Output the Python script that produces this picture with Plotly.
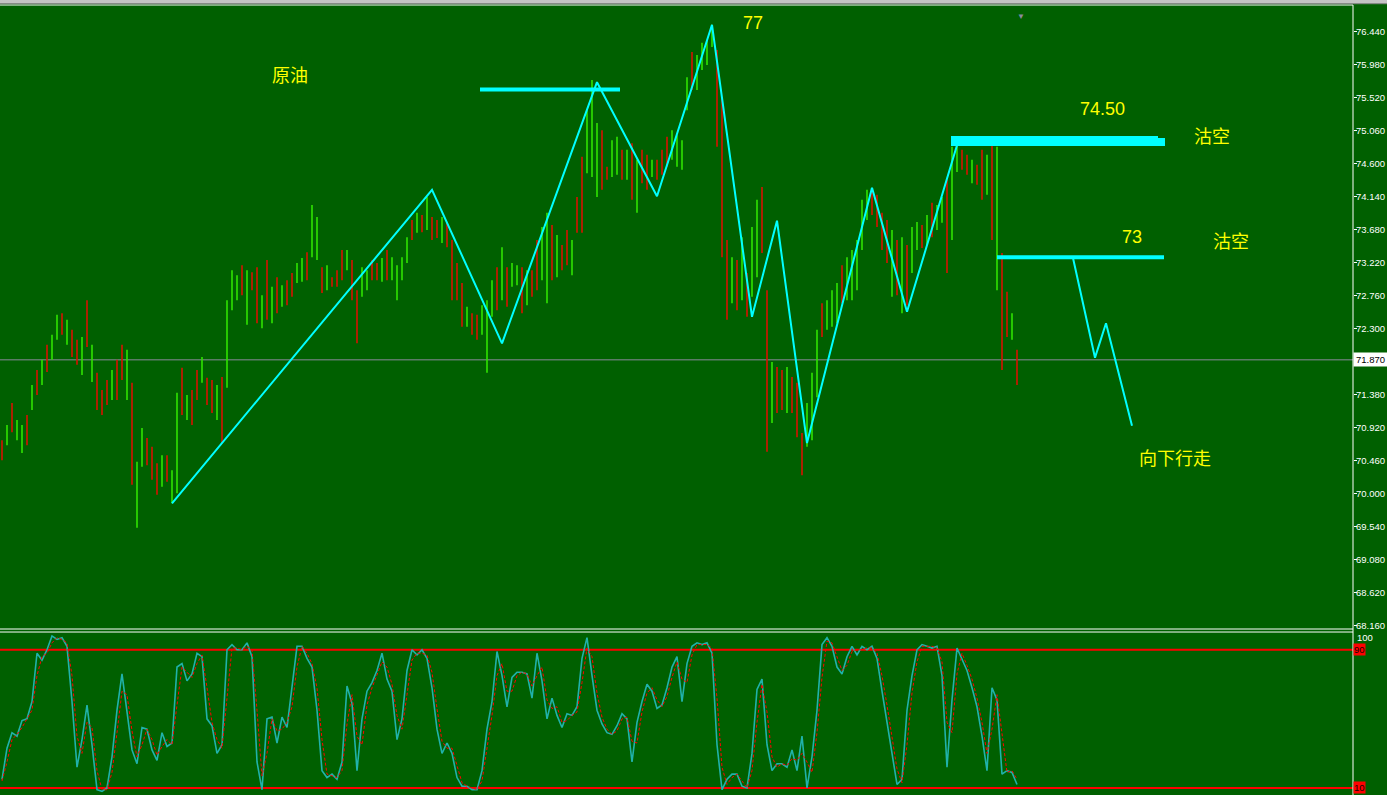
import plotly.graph_objects as go

# ---------------- data ----------------
bar_high = [
    70.75, 70.96, 71.27, 71.03, 70.96, 71.10, 71.52, 71.73, 71.87, 72.08,
    72.22, 72.50, 72.52, 72.43, 72.29, 72.15, 72.19, 72.70, 72.08, 71.69,
    71.45, 71.59, 71.73, 71.87, 72.08, 72.01, 71.55, 70.45, 70.92, 70.78,
    70.66, 70.43, 70.54, 70.54, 70.33, 71.41, 71.76, 71.38, 71.45, 71.73,
    71.91, 71.62, 71.59, 71.52, 71.63, 72.70, 73.12, 73.05, 73.19, 73.12,
    73.09, 73.16, 72.77, 73.26, 72.89, 73.02, 72.91, 72.98, 73.08, 73.22,
    73.29, 73.37, 74.03, 73.86, 73.16, 73.19, 73.02, 73.12, 73.40, 73.40,
    73.26, 72.84, 73.16, 73.12, 73.26, 73.22, 73.29, 73.40, 73.30, 73.19,
    73.30, 73.58, 73.82, 73.92, 73.89, 74.14, 73.86, 73.82, 73.86, 73.78,
    73.54, 73.22, 72.94, 72.61, 72.52, 72.50, 72.63, 72.70, 72.98, 73.16,
    73.44, 73.16, 73.22, 73.19, 73.16, 73.12, 73.12, 73.54, 73.72, 73.92,
    73.75, 73.61, 73.47, 73.68, 73.54, 74.14, 74.70, 75.35, 75.77, 75.17,
    75.07, 74.56, 74.93, 74.98, 74.80, 74.80, 74.89, 74.66, 74.80, 74.73,
    74.66, 74.66, 74.80, 74.98, 75.07, 75.00, 74.93, 75.81, 76.16, 76.12,
    76.29, 76.33, 76.54, 76.19, 75.53, 73.54, 73.30, 73.26, 73.58, 73.08,
    73.72, 74.10, 74.28, 72.84, 71.84, 71.77, 71.73, 71.77, 71.63, 71.55,
    70.85, 71.27, 71.69, 72.29, 72.66, 72.70, 72.84, 72.94, 73.19, 73.30,
    73.40, 73.54, 74.10, 74.24, 74.24, 74.17, 73.92, 73.82, 73.68, 73.54,
    73.58, 73.47, 73.72, 73.79, 73.75, 73.89, 74.06, 74.03, 74.14, 74.38,
    74.84, 74.86, 74.80, 74.73, 74.66, 74.59, 74.80, 74.73, 74.86, 74.84,
    73.36, 72.82, 72.52, 72.01,
]
bar_low = [
    70.47, 70.68, 70.86, 70.75, 70.57, 70.68, 71.17, 71.38, 71.52, 71.70,
    71.87, 72.15, 72.22, 72.08, 71.91, 71.80, 71.66, 72.05, 71.56, 71.17,
    71.10, 71.24, 71.31, 71.31, 71.59, 71.31, 70.13, 69.53, 70.38, 70.40,
    70.20, 69.99, 70.10, 70.17, 69.87, 70.01, 71.10, 71.03, 70.96, 71.31,
    71.55, 71.24, 71.13, 71.03, 70.71, 71.48, 72.56, 72.70, 72.77, 72.36,
    72.84, 72.38, 72.31, 72.43, 72.38, 72.52, 72.61, 72.63, 72.75, 72.94,
    72.96, 72.98, 73.30, 73.26, 72.80, 72.84, 72.89, 72.89, 72.98, 73.12,
    72.70, 72.10, 72.75, 72.84, 72.98, 72.98, 72.96, 72.98, 72.98, 72.70,
    72.98, 73.22, 73.54, 73.64, 73.65, 73.68, 73.54, 73.57, 73.50, 73.44,
    72.70, 72.70, 72.33, 72.33, 72.22, 72.15, 72.22, 71.69, 72.47, 72.56,
    72.70, 72.61, 72.89, 72.91, 72.52, 72.63, 72.75, 72.84, 72.98, 72.66,
    72.98, 73.02, 73.12, 73.19, 73.05, 73.64, 73.64, 74.47, 74.42, 74.14,
    74.24, 74.38, 74.42, 74.45, 74.38, 74.38, 74.10, 73.92, 74.33, 74.24,
    74.42, 74.38, 74.45, 74.56, 74.66, 74.56, 74.52, 75.35, 75.63, 75.63,
    75.91, 75.98, 76.23, 74.84, 73.30, 72.43, 72.66, 72.56, 72.70, 72.47,
    72.75, 73.02, 73.36, 70.59, 70.99, 71.13, 71.17, 71.13, 71.13, 70.79,
    70.26, 70.66, 70.75, 71.35, 72.19, 72.29, 72.33, 72.38, 72.66, 72.70,
    72.70, 72.84, 73.40, 73.82, 73.89, 73.72, 73.40, 73.22, 72.75, 72.77,
    72.52, 72.63, 73.08, 73.40, 73.43, 73.47, 73.58, 73.68, 73.78, 73.08,
    73.54, 74.49, 74.52, 74.45, 74.33, 74.31, 74.10, 74.17, 73.54, 72.84,
    71.73, 72.19, 72.15, 71.52,
]
# u = up bar, d = down bar
bar_dir = (
    "duduududud" "uududdudud" "ddudduduud" "dduduududd" "udduduuudu"
    "ddudududdu" "uduududddu" "dduudduduu" "uudududdud" "dddudduuud"
    "uduududduu" "duddudduuu" "dduudududd" "uddduuuudu" "uuudddudud"
    "uudduddudd" "duuuduuudu" "uuuuddddud" "uduududuud" "uudduddudu"
    "ddud"
)

stoch_main = [
    15, 33, 42, 40, 49, 50, 60, 88, 84, 90,
    98, 96, 97, 92, 60, 22, 38, 58, 35, 9,
    8, 10, 28, 55, 76, 55, 32, 24, 45, 44,
    32, 26, 42, 34, 36, 80, 82, 72, 76, 88,
    86, 50, 46, 30, 35, 90, 93, 90, 90, 94,
    86, 25, 9, 50, 51, 36, 51, 45, 68, 92,
    92, 85, 80, 55, 20, 16, 18, 15, 25, 69,
    59, 20, 50, 66, 71, 78, 88, 73, 66, 38,
    50, 78, 90, 87, 90, 85, 68, 44, 30, 36,
    30, 16, 11, 11, 9, 9, 20, 44, 60, 89,
    75, 57, 74, 77, 77, 76, 62, 88, 72, 50,
    62, 52, 45, 53, 52, 57, 85, 97, 75, 55,
    47, 42, 41, 46, 53, 50, 25, 48, 60, 70,
    66, 56, 58, 68, 80, 86, 60, 82, 92, 94,
    93, 94, 88, 35, 9, 15, 18, 18, 11, 10,
    30, 67, 73, 35, 20, 24, 24, 22, 32, 20,
    40, 10, 28, 55, 93, 97, 92, 80, 76, 86,
    92, 87, 92, 90, 92, 85, 66, 49, 30, 12,
    15, 55, 75, 90, 93, 92, 91, 92, 75, 22,
    61, 91, 84, 78, 68, 57, 40, 20, 68, 61,
    18, 20, 19, 12,
]
stoch_signal = [
    14, 25, 38, 41, 45, 50, 55, 75, 86, 88,
    94, 97, 96, 94, 75, 40, 30, 48, 45, 20,
    9, 9, 19, 42, 66, 64, 43, 28, 35, 44,
    38, 29, 34, 38, 35, 58, 80, 77, 74, 82,
    87, 68, 48, 38, 33, 62, 91, 91, 90, 92,
    90, 55, 17, 30, 50, 43, 44, 48, 57, 80,
    92, 88, 82, 68, 38, 18, 17, 16, 20, 47,
    64, 40, 35, 58, 68, 75, 83, 80, 70, 52,
    44, 64, 84, 88, 88, 87, 77, 56, 37, 33,
    33, 23, 13, 11, 10, 9, 14, 32, 52, 75,
    82, 66, 66, 75, 77, 76, 69, 75, 80, 61,
    56, 57, 48, 49, 52, 54, 71, 91, 86, 65,
    51, 44, 41, 43, 50, 51, 37, 36, 54, 65,
    68, 61, 57, 63, 74, 83, 73, 71, 87, 93,
    93, 93, 91, 62, 22, 12, 16, 18, 14, 10,
    20, 48, 70, 54, 28, 22, 24, 23, 27, 26,
    30, 25, 19, 42, 74, 95, 94, 86, 78, 81,
    89, 90, 90, 91, 91, 88, 75, 58, 40, 21,
    13, 35, 65, 83, 92, 92, 92, 91, 83, 48,
    42, 76, 88, 81, 73, 62, 48, 30, 44, 64,
    40, 19, 20, 15,
]

zigzag_idx = [34, 86, 100, 119, 131, 142, 150, 155, 161, 174, 181, 191]
zigzag_price = [69.87, 74.24, 72.10, 75.74, 74.15, 76.54, 72.47, 73.81, 70.71, 74.27, 72.54, 74.86]

proj_idx = [214.2, 218.6, 220.8, 226.0]
proj_price = [73.29, 71.90, 72.38, 70.95]

level_price = [75.64, 74.935, 74.907, 73.30]
level_from = [95.6, 189.8, 189.8, 199.0]
level_to = [123.6, 231.2, 232.6, 232.4]

price_ticks = [76.44, 75.98, 75.52, 75.06, 74.60, 74.14, 73.68, 73.22, 72.76,
               72.30, 71.38, 70.92, 70.46, 70.00, 69.54, 69.08, 68.62, 68.16]
last_price = 71.87
stoch_levels = [90, 10]

# ---------------- styles ----------------
BG = "#006000"
UP = "#2fe400"
DOWN = "#d81200"
CYAN = "#00ffff"
YELLOW = "#ffff00"
AXFONT = "Liberation Sans, Arial"
level_width = [4, 8, 8, 4]

N = len(bar_high)
bar_idx = list(range(N))
bar_open = [lo if d == "u" else hi for hi, lo, d in zip(bar_high, bar_low, bar_dir)]
bar_close = [hi if d == "u" else lo for hi, lo, d in zip(bar_high, bar_low, bar_dir)]

fig = go.Figure()

fig.add_trace(go.Ohlc(
    x=bar_idx, open=bar_open, high=bar_high, low=bar_low, close=bar_close,
    increasing=dict(line=dict(color=UP, width=1.6)),
    decreasing=dict(line=dict(color=DOWN, width=1.6)),
    tickwidth=0, hoverinfo="skip", showlegend=False, xaxis="x", yaxis="y"))

for p, a, b, w in zip(level_price, level_from, level_to, level_width):
    fig.add_trace(go.Scatter(x=[a, b], y=[p, p], mode="lines",
                             line=dict(color=CYAN, width=w), hoverinfo="skip",
                             showlegend=False, xaxis="x", yaxis="y"))

fig.add_trace(go.Scatter(x=zigzag_idx, y=zigzag_price, mode="lines",
                         line=dict(color=CYAN, width=2), hoverinfo="skip",
                         showlegend=False, xaxis="x", yaxis="y"))
fig.add_trace(go.Scatter(x=proj_idx, y=proj_price, mode="lines",
                         line=dict(color=CYAN, width=2), hoverinfo="skip",
                         showlegend=False, xaxis="x", yaxis="y"))

fig.add_trace(go.Scatter(x=bar_idx, y=stoch_main, mode="lines",
                         line=dict(color="#20b2aa", width=1.6), hoverinfo="skip",
                         showlegend=False, xaxis="x2", yaxis="y2"))
fig.add_trace(go.Scatter(x=bar_idx, y=stoch_signal, mode="lines",
                         line=dict(color="#ff0000", width=1, dash="3px,2px"),
                         hoverinfo="skip", showlegend=False, xaxis="x2", yaxis="y2"))

MAIN_DOM = [0.2088, 0.9937]
STO_DOM = [0.0, 0.2044]

shapes = []
# current price line
shapes.append(dict(type="line", xref="paper", yref="y", x0=0, x1=1, y0=last_price, y1=last_price,
                   line=dict(color="#8a8a9a", width=1), layer="below"))
for lv in stoch_levels:
    shapes.append(dict(type="line", xref="paper", yref="y2", x0=0, x1=1, y0=lv, y1=lv,
                       line=dict(color="#ff0000", width=2), layer="below"))
# panel borders
W = "#ffffff"
shapes += [
    dict(type="line", xref="paper", yref="paper", x0=0, x1=1, y0=MAIN_DOM[1], y1=MAIN_DOM[1], line=dict(color=W, width=1)),
    dict(type="line", xref="paper", yref="paper", x0=0, x1=1, y0=MAIN_DOM[0], y1=MAIN_DOM[0], line=dict(color=W, width=1)),
    dict(type="line", xref="paper", yref="paper", x0=0, x1=1, y0=0.2050, y1=0.2050, line=dict(color=W, width=1)),
    dict(type="line", xref="paper", yref="paper", x0=1, x1=1, y0=0, y1=MAIN_DOM[1], line=dict(color=W, width=1)),
    # top window strip
    dict(type="rect", xref="paper", yref="paper", x0=0, x1=1.03, y0=0.9953, y1=1.0,
         fillcolor="#c4c4c4", line=dict(width=0)),
    dict(type="line", xref="paper", yref="paper", x0=0, x1=1.03, y0=0.9953, y1=0.9953,
         line=dict(color="#808080", width=1)),
]

ann = []
def txt(t, x, y, size=18, fam="Noto Sans CJK SC"):
    ann.append(dict(text=t, x=x, y=y, xref="x", yref="y", showarrow=False,
                    xanchor="center", yanchor="middle",
                    font=dict(color=YELLOW, size=size, family=fam)))

txt("原油", 57.6, 75.85)
txt("77", 150.2, 76.56, 18, "Liberation Sans, Arial")
txt("74.50", 220.0, 75.36, 18, "Liberation Sans, Arial")
txt("沽空", 242.0, 75.00)
txt("73", 226.0, 73.58, 18, "Liberation Sans, Arial")
txt("沽空", 245.8, 73.54)
txt("向下行走", 234.6, 70.52)

# price-axis labels (drawn as text next to the axis ticks)
for v in price_ticks:
    ann.append(dict(text="%.3f" % v, x=1, y=v, xref="paper", yref="y", showarrow=False,
                    xanchor="left", yanchor="middle", xshift=2, borderpad=0,
                    font=dict(color="#ffffff", size=9.5, family=AXFONT)))

ann.append(dict(text="71.870", x=1, y=last_price, xref="paper", yref="y", showarrow=False,
                xanchor="left", yanchor="middle", bgcolor="#ffffff", borderpad=1, width=31,
                font=dict(color="#000000", size=9.5, family=AXFONT)))
ann.append(dict(text="100", x=1, y=97, xref="paper", yref="y2", showarrow=False,
                xanchor="left", yanchor="middle", xshift=2,
                font=dict(color="#ffffff", size=9.5, family=AXFONT)))
for lv in stoch_levels:
    ann.append(dict(text=str(lv), x=1, y=lv, xref="paper", yref="y2", showarrow=False,
                    xanchor="left", yanchor="middle", bgcolor="#ff0000", borderpad=0,
                    font=dict(color="#200000", size=9.5, family=AXFONT)))
ann.append(dict(text="▼", x=203.8, y=0.990, xref="x", yref="paper", showarrow=False,
                font=dict(color="#8a8aa0", size=8)))

fig.update_layout(
    width=1387, height=795,
    margin=dict(l=0, r=34, t=0, b=0, autoexpand=False),
    paper_bgcolor=BG, plot_bgcolor=BG,
    showlegend=False,
    shapes=shapes, annotations=ann,
    xaxis=dict(domain=[0, 1], range=[-0.4, 270.2], anchor="y", showticklabels=False,
               showgrid=False, zeroline=False, showline=False, ticks="", automargin=False,
               rangeslider=dict(visible=False)),
    xaxis2=dict(domain=[0, 1], range=[-0.4, 270.2], anchor="y2", matches="x", automargin=False,
                showticklabels=False, showgrid=False, zeroline=False, showline=False, ticks=""),
    yaxis=dict(domain=MAIN_DOM, range=[68.118, 76.816], side="right", anchor="x",
               tickvals=price_ticks, showticklabels=False,
               ticks="outside", ticklen=3, tickcolor="#ffffff", automargin=False,
               showgrid=False, zeroline=False, showline=False),
    yaxis2=dict(domain=STO_DOM, range=[5.9, 100], side="right", anchor="x2", automargin=False,
                showticklabels=False, showgrid=False, zeroline=False, showline=False, ticks=""),
)

fig.write_html(
    "out.html",
    config={"displayModeBar": False},
    post_script="document.body.style.margin='0px';document.body.style.padding='0px';"
                "document.body.style.overflow='hidden';",
)
